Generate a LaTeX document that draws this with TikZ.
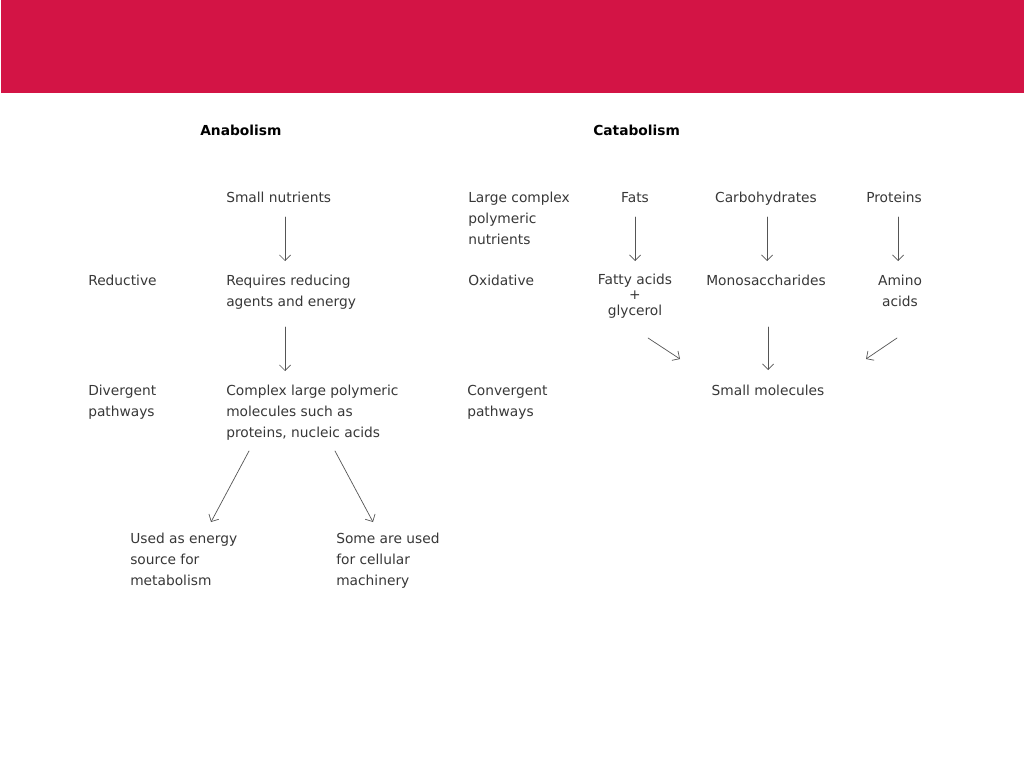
\documentclass[tikz,border=0pt]{standalone}
\usepackage{fontspec}
\setmainfont{DejaVu Sans}
\usepackage{tkz-euclide}
\usetikzlibrary{arrows.meta}

\definecolor{banner}{RGB}{211,20,69}
\definecolor{ink}{RGB}{55,55,55}

\tikzset{
  txt/.style={inner sep=0pt, align=left, text=ink, font=\fontsize{9.8}{14.9}\selectfont},
  ttl/.style={inner sep=0pt, text=black, font=\fontsize{9.8}{14.9}\selectfont\bfseries},
  arr/.style={draw=ink!85, line width=0.5pt, -{Straight Barb[length=1.4mm,width=2.8mm]}},
}

\begin{document}
\begin{tikzpicture}[x=0.025cm, y=-0.025cm]
    \useasboundingbox (0,0) rectangle (1024,768);
    \fill[banner] (1,0) rectangle (1024,93);

    % anabolism column (multi-line nodes sit on the baseline of their last line)
    \node[ttl, anchor=base west] (anab) at (200,136) {Anabolism};
    \node[txt, anchor=base west] (small) at (226,202) {Small nutrients};
    \node[txt, anchor=base west] (redu) at (88,285) {Reductive};
    \node[txt, anchor=base west] (requ) at (226,306) {Requires reducing\\agents and energy};
    \node[txt, anchor=base west] (dive) at (88,416) {Divergent\\pathways};
    \node[txt, anchor=base west] (cplx) at (226,437) {Complex large polymeric\\molecules such as\\proteins, nucleic acids};
    \node[txt, anchor=base west] (ener) at (130,585) {Used as energy\\source for\\metabolism};
    \node[txt, anchor=base west] (mach) at (336,585) {Some are used\\for cellular\\machinery};

    % catabolism column
    \node[ttl, anchor=base west] (cata) at (593,136) {Catabolism};
    \node[txt, anchor=base west] (large) at (468,244) {Large complex\\polymeric\\nutrients};
    \node[txt, anchor=base] (fats) at (635,202) {Fats};
    \node[txt, anchor=base] (carb) at (766,202) {Carbohydrates};
    \node[txt, anchor=base] (prot) at (894,202) {Proteins};
    \node[txt, anchor=base west] (oxid) at (468,285) {Oxidative};
    \node[txt, anchor=base, align=center, font=\fontsize{9.8}{10.7}\selectfont] (fatty) at (635,315) {Fatty acids\\+\\glycerol};
    \node[txt, anchor=base] (mono) at (766,285) {Monosaccharides};
    \node[txt, anchor=base, align=center] (amino) at (900,306) {Amino\\acids};
    \node[txt, anchor=base west] (conv) at (467,416) {Convergent\\pathways};
    \node[txt, anchor=base] (smol) at (768,395) {Small molecules};

    \tkzDefPoints{285/217/a1, 285/261/a2, 285/327/a3, 285/371/a4}
    \tkzDefPoints{249/451/b1, 211/522/b2, 335/451/b3, 373/522/b4}
    \tkzDefPoints{635/217/c1, 635/261/c2, 767/217/c3, 767/261/c4, 898/217/c5, 898/261/c6}
    \tkzDefPoints{648/338/d1, 680/359/d2, 768/327/d3, 768/370/d4, 897/338/d5, 866/359/d6}

    \tkzDrawSegments[arr](a1,a2 a3,a4 b1,b2 b3,b4)
    \tkzDrawSegments[arr](c1,c2 c3,c4 c5,c6)
    \tkzDrawSegments[arr](d1,d2 d3,d4 d5,d6)
\end{tikzpicture}
\end{document}
